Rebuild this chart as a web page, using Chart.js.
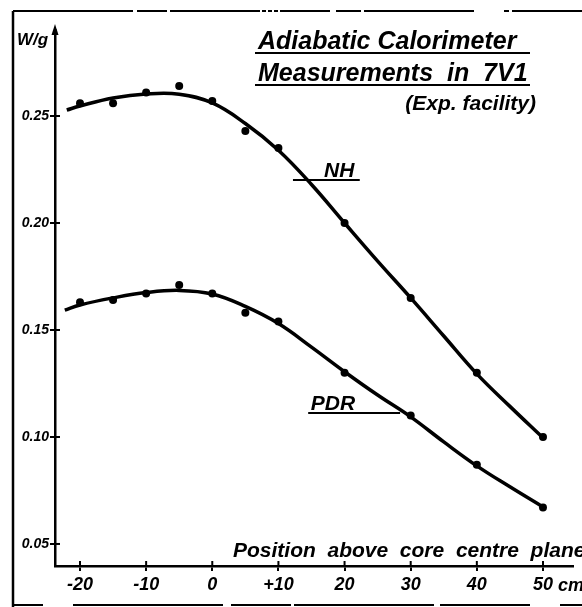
<!DOCTYPE html>
<html>
<head>
<meta charset="utf-8">
<script src="https://cdn.jsdelivr.net/npm/chart.js@4.4.1/dist/chart.umd.min.js"></script>
<style>
  html, body { margin: 0; padding: 0; background: #fff; }
  #chart { display: block; }
</style>
</head>
<body>
<canvas id="chart" width="582" height="607"></canvas>
<script>
// measured positions, cm above core centre plane
const positions = [-20, -15, -10, -5, 0, 5, 10, 20, 30, 40, 50];
// heating, W/g
const nhMeasured = [0.256, 0.256, 0.261, 0.264, 0.257, 0.243, 0.235, 0.200, 0.165, 0.130, 0.100];
const pdrMeasured = [0.163, 0.164, 0.167, 0.171, 0.167, 0.158, 0.154, 0.130, 0.110, 0.087, 0.067];

// hand-faired curves through the measurements
const nhCurvePositions = [-22, -20, -15, -10, -5, 0, 5, 10, 15, 20, 25, 30, 35, 40, 45, 50];
const nhCurve = [0.2528, 0.2547, 0.2584, 0.2603, 0.2602, 0.2561, 0.2465, 0.2340, 0.2180, 0.2000, 0.1822, 0.1650, 0.1472, 0.1295, 0.1143, 0.0996];
const pdrCurvePositions = [-22.3, -20, -15, -10, -5, 0, 5, 10, 15, 20, 25, 30, 35, 40, 45, 50];
const pdrCurve = [0.1593, 0.1617, 0.1650, 0.1675, 0.1685, 0.1668, 0.1610, 0.1530, 0.1420, 0.1305, 0.1196, 0.1094, 0.0977, 0.0865, 0.0767, 0.0673];

const xTicks = [-20, -10, 0, 10, 20, 30, 40, 50];
const xTickLabels = ['-20', '-10', '0', '+10', '20', '30', '40', '50'];
const yTicks = [0.05, 0.10, 0.15, 0.20, 0.25];
const yTickLabels = ['0.05', '0.10', '0.15', '0.20', '0.25'];

const FONT = '"Liberation Sans", Arial, sans-serif';
const INK = '#000';

const toPoints = (xs, ys) => xs.map((x, i) => ({ x: x, y: ys[i] }));

function curve(label, xs, ys) {
  return {
    label: label,
    data: toPoints(xs, ys),
    showLine: true,
    borderColor: INK,
    borderWidth: 3.5,
    tension: 0.4,
    pointRadius: 0,
    fill: false
  };
}

function measured(label, ys) {
  return {
    label: label,
    data: toPoints(positions, ys),
    showLine: false,
    pointRadius: 4,
    pointBackgroundColor: INK,
    pointBorderWidth: 0
  };
}

function line(ctx, x1, y1, x2, y2, w) {
  ctx.lineWidth = w;
  ctx.beginPath();
  ctx.moveTo(x1, y1);
  ctx.lineTo(x2, y2);
  ctx.stroke();
}

// frame, arrow, inner tick marks and all the lettering
const decorations = {
  id: 'decorations',
  afterDraw(chart) {
    const ctx = chart.ctx;
    const xs = chart.scales.x;
    const ys = chart.scales.y;
    const area = chart.chartArea;
    ctx.save();
    ctx.strokeStyle = INK;
    ctx.fillStyle = INK;
    ctx.lineCap = 'butt';

    // sheet border
    line(ctx, 13, 11, 13, 607, 2.5);
    ctx.setLineDash([120, 4, 30, 3, 90, 2, 4, 2, 4, 2, 4, 2, 50, 6, 25, 3, 110, 30, 5, 3]);
    line(ctx, 13, 11, 582, 11, 2);
    ctx.setLineDash([30, 30, 150, 8, 60, 3, 140, 6, 90]);
    line(ctx, 13, 605, 582, 605, 2);
    ctx.setLineDash([]);

    // arrow head on the y axis
    ctx.beginPath();
    ctx.moveTo(area.left, area.top - 6);
    ctx.lineTo(area.left - 3.5, area.top + 5);
    ctx.lineTo(area.left + 3.5, area.top + 5);
    ctx.closePath();
    ctx.fill();

    // tick marks continue inside the axes
    yTicks.forEach(v => {
      const p = ys.getPixelForValue(v);
      line(ctx, area.left, p, area.left + 5, p, 2);
    });
    xTicks.forEach(v => {
      const p = xs.getPixelForValue(v);
      line(ctx, p, area.bottom, p, area.bottom - 5, 2);
    });

    ctx.textBaseline = 'alphabetic';
    ctx.textAlign = 'left';

    // unit
    ctx.font = 'italic bold 17px ' + FONT;
    ctx.fillText('W/g', 17, 45);

    // title block
    ctx.font = 'italic bold 25px ' + FONT;
    ctx.fillText('Adiabatic Calorimeter', 258, 49);
    line(ctx, 255, 53, 530, 53, 2);
    ctx.fillText('Measurements  in  7V1', 258, 81);
    line(ctx, 255, 85, 530, 85, 2);
    ctx.font = 'italic bold 21px ' + FONT;
    ctx.textAlign = 'right';
    ctx.fillText('(Exp. facility)', 536, 110);
    ctx.textAlign = 'left';

    // curve names on their leader lines
    const tag = (text, tx, x1, x2, yv) => {
      const y = ys.getPixelForValue(yv);
      ctx.font = 'italic bold 21px ' + FONT;
      ctx.fillText(text, xs.getPixelForValue(tx), y - 3);
      line(ctx, xs.getPixelForValue(x1), y, xs.getPixelForValue(x2), y, 2);
    };
    tag('NH', 16.9, 12.2, 22.3, 0.2201);
    tag('PDR', 14.9, 14.5, 28.4, 0.1112);

    // axis caption
    ctx.font = 'italic bold 21px ' + FONT;
    ctx.fillText('Position  above  core  centre  plane', 233, 557);

    // unit after the last x label
    ctx.font = 'italic bold 18px ' + FONT;
    ctx.fillText('cm', xs.getPixelForValue(50) + 15, 591);

    ctx.restore();
  }
};

const tickFont = { family: FONT, style: 'italic', weight: 'bold' };

new Chart(document.getElementById('chart'), {
  type: 'scatter',
  data: {
    datasets: [
      curve('NH', nhCurvePositions, nhCurve),
      curve('PDR', pdrCurvePositions, pdrCurve),
      measured('NH measured', nhMeasured),
      measured('PDR measured', pdrMeasured)
    ]
  },
  options: {
    responsive: false,
    animation: false,
    layout: { padding: { top: 30, right: 9, left: 0, bottom: 0 } },
    plugins: {
      legend: { display: false },
      tooltip: { enabled: false }
    },
    scales: {
      x: {
        type: 'linear',
        min: -23.78,
        max: 54.54,
        afterBuildTicks: s => { s.ticks = xTicks.map(v => ({ value: v })); },
        afterFit: s => { s.height = 41; },
        ticks: {
          callback: (v, i) => xTickLabels[i],
          color: INK,
          font: Object.assign({ size: 18 }, tickFont),
          padding: 3,
          maxRotation: 0,
          autoSkip: false
        },
        grid: { drawOnChartArea: false, drawTicks: true, tickLength: 5, color: INK, lineWidth: 2 },
        border: { color: INK, width: 2.5 }
      },
      y: {
        type: 'linear',
        min: 0.0397,
        max: 0.2902,
        afterBuildTicks: s => { s.ticks = yTicks.map(v => ({ value: v })); },
        afterFit: s => { s.width = 55; },
        ticks: {
          callback: (v, i) => yTickLabels[i],
          color: INK,
          font: Object.assign({ size: 14 }, tickFont),
          padding: 1,
          autoSkip: false
        },
        grid: { drawOnChartArea: false, drawTicks: true, tickLength: 5, color: INK, lineWidth: 2 },
        border: { color: INK, width: 2.5 }
      }
    }
  },
  plugins: [decorations]
});
</script>
</body>
</html>
